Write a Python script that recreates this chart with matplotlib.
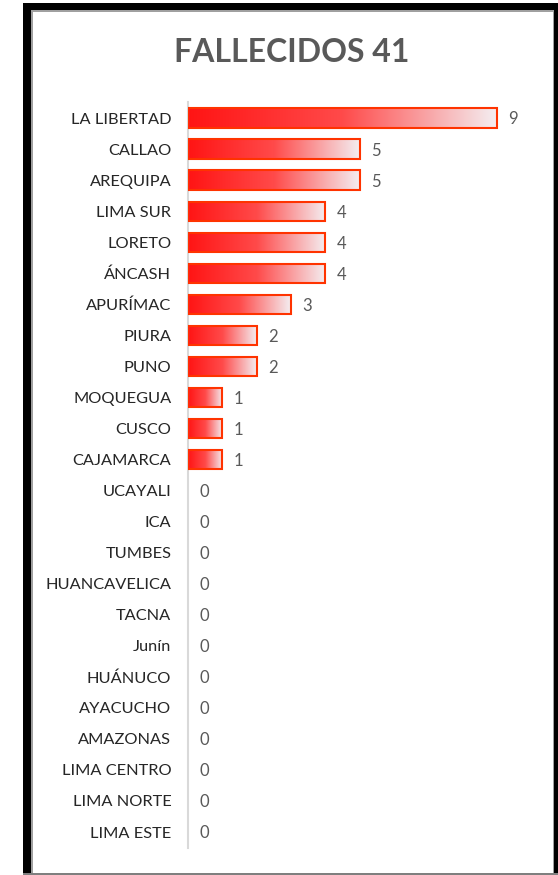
import matplotlib
matplotlib.use("Agg")
import matplotlib.pyplot as plt
import numpy as np
from matplotlib.colors import LinearSegmentedColormap
from matplotlib.patches import Rectangle

regions = ["LA LIBERTAD", "CALLAO", "AREQUIPA", "LIMA SUR", "LORETO", "ÁNCASH",
           "APURÍMAC", "PIURA", "PUNO", "MOQUEGUA", "CUSCO", "CAJAMARCA",
           "UCAYALI", "ICA", "TUMBES", "HUANCAVELICA", "TACNA", "Junín",
           "HUÁNUCO", "AYACUCHO", "AMAZONAS", "LIMA CENTRO", "LIMA NORTE", "LIMA ESTE"]
deaths = [9, 5, 5, 4, 4, 4, 3, 2, 2, 1, 1, 1, 0, 0, 0, 0, 0, 0, 0, 0, 0, 0, 0, 0]
title = "FALLECIDOS 41"

plt.rcParams['font.family'] = ['Lato', 'DejaVu Sans']

W, H = 558, 875
fig = plt.figure(figsize=(W / 100, H / 100), dpi=100)
fig.patch.set_facecolor("white")

# frame
def px_rect(x0, y0, x1, y1, color):
    fig.patches.append(Rectangle((x0 / W, 1 - y1 / H), (x1 - x0) / W, (y1 - y0) / H,
                                 transform=fig.transFigure, facecolor=color,
                                 edgecolor="none", zorder=0))

px_rect(23, 3, 31, 875, "black")
px_rect(23, 3, 558, 10, "black")
px_rect(554, 3, 558, 875, "black")
px_rect(31, 10, 554, 11.5, "#A0A0A0")
px_rect(31, 10, 32.5, 875, "#A0A0A0")
px_rect(552.5, 10, 554, 875, "#A0A0A0")
px_rect(23, 872.5, 558, 875, "#7F7F7F")

n = len(regions)
row_top, row_bot = 118, 832
step = (row_bot - row_top) / (n - 1)
ax_top = row_top - step / 2
ax_bot = row_bot + step / 2
ax_left = 188
px_per_unit = (497 - 188) / 9
xmax = 10
ax = fig.add_axes([ax_left / W, 1 - ax_bot / H, xmax * px_per_unit / W, (ax_bot - ax_top) / H])
ax.set_facecolor("none")

y = np.arange(n)
edgecolors = ["#FF3300" if v > 0 else "none" for v in deaths]
bars = ax.barh(y, deaths, height=0.62, facecolor="none", edgecolor=edgecolors,
               linewidth=1.5, zorder=3)

cmap = LinearSegmentedColormap.from_list("grad", ["#FF1414", "#FF4A4A", "#F4EEF1"])
grad = np.linspace(0, 1, 256).reshape(1, -1)
for b, v in zip(bars, deaths):
    if v <= 0:
        continue
    x0, y0 = b.get_x(), b.get_y()
    ax.imshow(grad, extent=[x0, x0 + b.get_width(), y0, y0 + b.get_height()],
              aspect="auto", cmap=cmap, zorder=2, interpolation="bilinear")

for b, v in zip(bars, deaths):
    ax.annotate(str(v), (b.get_width(), b.get_y() + b.get_height() / 2),
                xytext=(8, 0), textcoords="offset points", va="center_baseline",
                ha="left", fontsize=12, color="#595959")

ax.set_xlim(0, xmax)
ax.set_ylim(n - 0.5, -0.5)
ax.set_yticks(y)
ax.set_yticklabels(regions, fontsize=11.8, color="#262626")
ax.tick_params(axis="y", length=0, pad=12)
ax.set_xticks([])
for s in ["top", "right", "bottom"]:
    ax.spines[s].set_visible(False)
ax.spines["left"].set_color("#D9D9D9")
ax.spines["left"].set_linewidth(1.5)

fig.text(292 / W, 1 - 53 / H, title, ha="center", va="center", fontsize=23,
         fontweight="bold", color="#595959")

fig.savefig("out.png", dpi=100, facecolor="white")
